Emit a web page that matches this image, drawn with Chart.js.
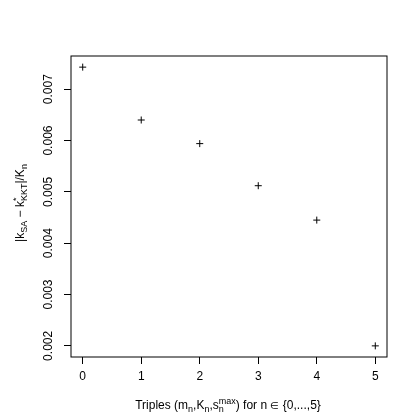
<!DOCTYPE html>
<html>
<head>
<meta charset="utf-8">
<script src="https://cdn.jsdelivr.net/npm/chart.js@4.4.1/dist/chart.umd.min.js"></script>
<style>
  html, body { margin: 0; padding: 0; background: #fff; }
  #wrap { width: 415px; height: 415px; }
</style>
</head>
<body>
<div id="wrap"><canvas id="c" width="415" height="415"></canvas></div>
<script>
'use strict';

/* valores */
const triples = [0, 1, 2, 3, 4, 5];
const errRel  = [0.00743, 0.00640, 0.00594, 0.00512, 0.00445, 0.00200];
const xTicks  = [0, 1, 2, 3, 4, 5];
const yTicks  = [0.002, 0.003, 0.004, 0.005, 0.006, 0.007];
const yTickLabels = ['0.002', '0.003', '0.004', '0.005', '0.006', '0.007'];

const FONT = "'Liberation Sans', Arial, Helvetica, sans-serif";

/* ── texto con sub/superíndices tipo plotmath ── */
function partWidth(ctx, p, size) {
  ctx.font = (p.size || size) + 'px ' + FONT;
  let w = ctx.measureText(p.t).width;
  ctx.font = Math.round(size * 0.72) + 'px ' + FONT;
  const ws = p.sub ? ctx.measureText(p.sub).width : 0;
  const wp = p.sup ? ctx.measureText(p.sup).width : 0;
  return w + Math.max(ws, wp);
}

function drawRich(ctx, parts, cx, cy, size) {
  const total = parts.reduce((s, p) => s + partWidth(ctx, p, size), 0);
  let x = cx - total / 2;
  ctx.textAlign = 'left';
  ctx.textBaseline = 'alphabetic';
  const base = cy + size * 0.35;
  parts.forEach(p => {
    ctx.font = (p.size || size) + 'px ' + FONT;
    ctx.fillText(p.t, x, base);
    x += ctx.measureText(p.t).width;
    const small = Math.round(size * 0.72);
    ctx.font = small + 'px ' + FONT;
    let ws = 0, wp = 0;
    if (p.sub) { ctx.fillText(p.sub, x, base + size * 0.25); ws = ctx.measureText(p.sub).width; }
    if (p.sup) { ctx.fillText(p.sup, x, base - size * 0.45); wp = ctx.measureText(p.sup).width; }
    x += Math.max(ws, wp);
  });
}

const yTitle = [
  { t: '|k', sub: 'SA' },
  { t: ' \u2212 k', sub: 'KKT', sup: '*' },
  { t: '|/K', sub: 'n' }
];
const xTitle = [
  { t: 'Triples (m', sub: 'n' },
  { t: ',K', sub: 'n' },
  { t: ',s', sub: 'n', sup: 'max' },
  { t: ') for n ' },
  { t: '\u2208', size: 10 },
  { t: ' {0,...,5}' }
];

const rPlot = {
  id: 'rPlot',
  afterDraw(chart) {
    const { ctx, chartArea: a, scales } = chart;
    ctx.save();
    ctx.strokeStyle = '#000';
    ctx.lineWidth = 1;
    ctx.strokeRect(a.left, a.top, a.right - a.left, a.bottom - a.top);

    ctx.fillStyle = '#000';
    ctx.font = '12px ' + FONT;
    ctx.textAlign = 'center';
    ctx.textBaseline = 'middle';
    yTicks.forEach((v, i) => {
      const y = scales.y.getPixelForValue(v);
      ctx.save();
      ctx.translate(49, y);
      ctx.rotate(-Math.PI / 2);
      ctx.fillText(yTickLabels[i], 0, 0);
      ctx.restore();
    });

    ctx.save();
    ctx.translate(20, 203);
    ctx.rotate(-Math.PI / 2);
    drawRich(ctx, yTitle, 0, 0, 12);
    ctx.restore();

    drawRich(ctx, xTitle, 228, 405, 12);
    ctx.restore();
  }
};

new Chart(document.getElementById('c'), {
  type: 'scatter',
  data: {
    datasets: [{
      data: triples.map((x, i) => ({ x: x, y: errRel[i] })),
      pointStyle: 'cross',
      pointRadius: 3.5,
      pointHoverRadius: 3.5,
      borderColor: '#000',
      backgroundColor: '#000',
      pointBorderWidth: 1
    }]
  },
  options: {
    responsive: false,
    animation: false,
    devicePixelRatio: 1,
    layout: { padding: { top: 56, right: 28, left: 0, bottom: 0 } },
    plugins: { legend: { display: false }, tooltip: { enabled: false } },
    scales: {
      x: {
        type: 'linear',
        min: -0.2, max: 5.2,
        afterBuildTicks: s => { s.ticks = xTicks.map(v => ({ value: v })); },
        afterFit: s => { s.height = 58; },
        border: { display: false },
        grid: { drawOnChartArea: false, drawTicks: true, tickLength: 7, color: '#000', lineWidth: 1 },
        ticks: { color: '#000', font: { family: FONT, size: 12 }, padding: 5, maxRotation: 0, autoSkip: false }
      },
      y: {
        type: 'linear',
        min: 0.001783, max: 0.007647,
        afterBuildTicks: s => { s.ticks = yTicks.map(v => ({ value: v })); },
        afterFit: s => { s.width = 71; },
        border: { display: false },
        grid: { drawOnChartArea: false, drawTicks: true, tickLength: 7, color: '#000', lineWidth: 1 },
        ticks: { display: false }
      }
    }
  },
  plugins: [rPlot]
});
</script>
</body>
</html>
